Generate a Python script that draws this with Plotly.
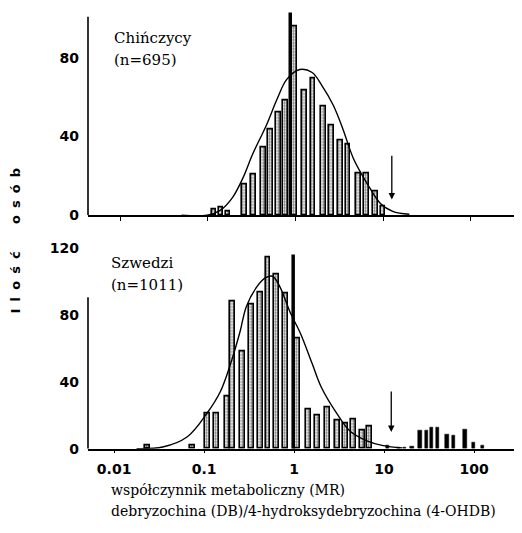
import plotly.graph_objects as go

# Chińczycy (n=695): bars at log10(MR), heights = number of people
chin_log_mr = [-0.93, -0.85, -0.77, -0.58, -0.48, -0.37, -0.29, -0.19, -0.11, -0.01,
               0.10, 0.20, 0.32, 0.41, 0.51, 0.60, 0.72, 0.81, 0.91, 1.00]
chin_count = [3, 4, 2, 15.5, 20.5, 34.5, 43.5, 52, 58.5, 96,
              63.5, 69.5, 55.5, 45.5, 38, 36, 21, 21, 12, 4.5]
chin_curve_x = [-1.3, -1.01, -0.86, -0.72, -0.60, -0.49, -0.33, -0.21, -0.10, 0.05,
                0.19, 0.30, 0.43, 0.54, 0.66, 0.82, 0.97, 1.11, 1.3]
chin_curve_y = [0, 0, 2.5, 9, 19, 31, 46, 59, 69, 74, 72.5, 66, 56, 44, 29, 16, 6, 2, 0.5]

# Szwedzi (n=1011)
swe_log_mr = [-1.63, -1.13, -0.96, -0.86, -0.74, -0.68, -0.57, -0.47, -0.37, -0.29,
              -0.19, -0.10, 0.04, 0.16, 0.26, 0.37, 0.48, 0.57, 0.66, 0.76, 0.84]
swe_count = [2, 2, 21, 21, 31, 88, 58, 86, 93.5, 114,
             104, 93, 66, 23.5, 19.6, 24.5, 16.7, 15.3, 17.6, 10.8, 13.3]
# poor metabolisers tail (thin black bars)
swe_tail_log_mr = [1.04, 1.16, 1.23, 1.31, 1.40, 1.47, 1.53, 1.59, 1.70, 1.77, 1.90, 1.99, 2.09]
swe_tail_count = [2, 1, 1, 1.5, 11, 11, 13, 12.7, 8.8, 7.8, 11.8, 4, 2]
swe_curve_x = [-1.75, -1.46, -1.19, -0.97, -0.82, -0.71, -0.60, -0.53, -0.41, -0.32, -0.24,
               -0.16, -0.04, 0.07, 0.20, 0.30, 0.48, 0.62, 0.81, 0.99, 1.2]
swe_curve_y = [0, 1, 7, 21, 34, 50, 70, 85, 97, 102, 103, 97, 81, 69, 51, 37,
               20.6, 10.6, 4.7, 1.8, 0.5]

# thick marker at MR = 1 and antimode arrow (log10 MR)
one_line_x = [-0.06, -0.01]
one_line_top = [103, 116]
arrow_x = [1.10, 1.08]

tick_vals = [-2, -1, 0, 1, 2]
tick_text = ["0.01", "0.1", "1", "10", "100"]

# the page body has an 8px margin, so work in screen pixels and shift
W, H, OFF = 514, 525, 8


def fx(px):
    return (px - OFF) / W


def fy(py):
    return 1 - (py - OFF) / H


bar_style = dict(color="white", line=dict(color="black", width=1.6),
                 pattern=dict(shape=".", fgcolor="black", size=3, solidity=0.5))

fig = go.Figure()

fig.add_trace(go.Bar(x=chin_log_mr, y=chin_count, width=0.055, marker=bar_style,
                     xaxis="x", yaxis="y"))
fig.add_trace(go.Scatter(x=chin_curve_x, y=chin_curve_y, mode="lines", line_shape="spline",
                         line=dict(color="black", width=1.4), xaxis="x", yaxis="y"))
fig.add_trace(go.Scatter(x=[one_line_x[0]] * 2, y=[0, one_line_top[0]], mode="lines",
                         line=dict(color="black", width=3.5), xaxis="x", yaxis="y"))

fig.add_trace(go.Bar(x=swe_log_mr, y=swe_count, width=0.055, marker=bar_style,
                     xaxis="x2", yaxis="y2"))
fig.add_trace(go.Bar(x=swe_tail_log_mr, y=swe_tail_count, width=0.035,
                     marker=dict(color="black", line=dict(color="black", width=0.5)),
                     xaxis="x2", yaxis="y2"))
fig.add_trace(go.Scatter(x=swe_curve_x, y=swe_curve_y, mode="lines", line_shape="spline",
                         line=dict(color="black", width=1.4), xaxis="x2", yaxis="y2"))
fig.add_trace(go.Scatter(x=[one_line_x[1]] * 2, y=[0, one_line_top[1]], mode="lines",
                         line=dict(color="black", width=3.5), xaxis="x2", yaxis="y2"))

tick_font = dict(family="DejaVu Sans", size=14, color="black", weight="bold")
x_left = fx(88)

fig.update_layout(
    width=W, height=H, margin=dict(l=0, r=0, t=0, b=0),
    paper_bgcolor="white", plot_bgcolor="white", showlegend=False, bargap=0,
    xaxis=dict(domain=[x_left, 1], range=[-2.37, 2.587], anchor="y",
               showline=True, linecolor="black", linewidth=1.6, showgrid=False, zeroline=False,
               tickvals=tick_vals, ticktext=tick_text, showticklabels=False,
               ticks="outside", ticklen=4, tickcolor="black"),
    yaxis=dict(domain=[fy(218.5), fy(11.5)], range=[0, 103.5], anchor="x",
               showline=False, showgrid=False, zeroline=False,
               tickvals=[0, 40, 80], tickfont=tick_font, ticks="", ticklabelstandoff=8),
    xaxis2=dict(domain=[x_left, 1], range=[-2.29, 2.533], anchor="y2",
                showline=True, linecolor="black", linewidth=1.6, showgrid=False, zeroline=False,
                tickvals=tick_vals, ticktext=tick_text, tickfont=tick_font,
                ticks="outside", ticklen=3, tickcolor="black", ticklabelstandoff=4),
    yaxis2=dict(domain=[fy(455.5), fy(243)], range=[0, 125], anchor="x2",
                showline=False, showgrid=False, zeroline=False,
                tickvals=[0, 40, 80, 120], tickfont=tick_font, ticks="", ticklabelstandoff=8),
)

# y axis lines (partial height as in the original)
fig.add_shape(type="line", xref="paper", yref="y", x0=x_left, x1=x_left, y0=0, y1=100.75,
              line=dict(color="black", width=1.6))
fig.add_shape(type="line", xref="paper", yref="y2", x0=x_left, x1=x_left, y0=0, y1=90.5,
              line=dict(color="black", width=1.6))

# antimode arrows
fig.add_annotation(x=arrow_x[0], y=8, ax=arrow_x[0], ay=31, xref="x", yref="y",
                   axref="x", ayref="y", showarrow=True, arrowhead=2, arrowsize=1,
                   arrowwidth=1.3, arrowcolor="black", text="")
fig.add_annotation(x=arrow_x[1], y=10, ax=arrow_x[1], ay=35, xref="x2", yref="y2",
                   axref="x2", ayref="y2", showarrow=True, arrowhead=2, arrowsize=1,
                   arrowwidth=1.3, arrowcolor="black", text="")

serif = dict(family="DejaVu Serif", size=15, color="black")
labels = [("Chińczycy", 112, 38), ("(n=695)", 112, 61),
          ("Szwedzi", 109, 267), ("(n=1011)", 109, 289)]
for txt, px, py in labels:
    fig.add_annotation(text=txt, xref="paper", yref="paper", x=fx(px), y=fy(py),
                       xanchor="left", yanchor="middle", showarrow=False, font=serif)

title_font = dict(family="DejaVu Serif", size=14, color="black")
fig.add_annotation(text="współczynnik metaboliczny (MR)", xref="paper", yref="paper",
                   x=fx(109), y=fy(497), xanchor="left", yanchor="middle",
                   showarrow=False, font=title_font)
fig.add_annotation(text="debryzochina (DB)/4-hydroksydebryzochina (4-OHDB)", xref="paper",
                   yref="paper", x=fx(109), y=fy(519), xanchor="left",
                   yanchor="middle", showarrow=False, font=title_font)

gap = "\u00a0\u2009"
ytitle = gap.join("Ilość") + "\u00a0" * 6 + gap.join("osób")
fig.add_annotation(text=ytitle, xref="paper", yref="paper", x=fx(15), y=fy(244),
                   xanchor="center", yanchor="middle", textangle=-90, showarrow=False,
                   font=dict(family="DejaVu Sans", size=13, color="black", weight="bold"))

fig.write_html("out.html")
